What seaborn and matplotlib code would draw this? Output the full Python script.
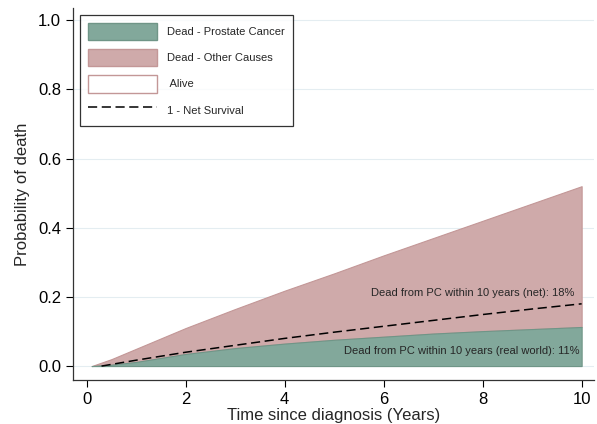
import numpy as np
import pandas as pd
import seaborn as sns
import matplotlib.pyplot as plt
from matplotlib.patches import Patch
from matplotlib.lines import Line2D

# values (years since diagnosis)
years = [0.1, 0.5, 1, 2, 3, 4, 5, 6, 7, 8, 9, 10]
dead_pc = [0.0, 0.004, 0.012, 0.035, 0.052, 0.065, 0.076, 0.085, 0.094, 0.101, 0.107, 0.113]
dead_all = [0.0, 0.02, 0.05, 0.11, 0.165, 0.218, 0.268, 0.32, 0.37, 0.42, 0.47, 0.52]
net_years = [0.3, 1, 2, 3, 4, 5, 6, 7, 8, 9, 10]
net_death = [0.0, 0.017, 0.04, 0.06, 0.08, 0.098, 0.115, 0.132, 0.149, 0.165, 0.18]

df = pd.DataFrame({"years": years, "pc": dead_pc, "all": dead_all})
net = pd.DataFrame({"years": net_years, "net": net_death})

green = "#82a89b"
pink = "#cfaaaa"
pink_edge = "#c39797"

sns.set_style("white")
plt.rcParams["font.family"] = ["Liberation Sans", "DejaVu Sans"]

fig = plt.figure(figsize=(5.97, 4.24), dpi=100)
ax = fig.add_axes([0.122, 0.104, 0.873, 0.877])

ax.fill_between(df["years"], df["pc"], df["all"], color=pink, edgecolor=pink_edge, lw=0.8)
ax.fill_between(df["years"], 0, df["pc"], color=green, edgecolor="#6f9587", lw=0.8)
sns.lineplot(data=net, x="years", y="net", ax=ax, color="black", lw=1.1, linestyle=(0, (6, 3)))

ax.text(9.85, 0.212, "Dead from PC within 10 years (net): 18%", ha="right", va="center", fontsize=8)
ax.text(9.95, 0.045, "Dead from PC within 10 years (real world): 11%", ha="right", va="center", fontsize=8)

ax.set_xlim(-0.28, 10.25)
ax.set_ylim(-0.04, 1.035)
ax.set_xticks([0, 2, 4, 6, 8, 10])
ax.set_yticks([0, 0.2, 0.4, 0.6, 0.8, 1.0])
ax.set_yticklabels(["0.0", "0.2", "0.4", "0.6", "0.8", "1.0"])
ax.yaxis.grid(True, color="#e4edf1", lw=0.8)
ax.set_axisbelow(True)
ax.tick_params(axis="both", which="both", direction="out", length=5, width=0.8, labelsize=12, colors="black", left=True, bottom=True)
ax.set_xlabel("Time since diagnosis (Years)", fontsize=12, labelpad=1)
ax.set_ylabel("Probability of death", fontsize=12, labelpad=6)
for s in ["top", "right"]:
    ax.spines[s].set_visible(False)
for s in ["left", "bottom"]:
    ax.spines[s].set_color("#333333")
    ax.spines[s].set_linewidth(0.9)

handles = [
    Patch(facecolor=green, edgecolor="#6f9587", label="Dead - Prostate Cancer"),
    Patch(facecolor=pink, edgecolor=pink_edge, label="Dead - Other Causes"),
    Patch(facecolor="white", edgecolor=pink_edge, label=" Alive"),
    Line2D([0], [0], color="black", lw=1.1, linestyle=(0, (6, 3)), label="1 - Net Survival"),
]
leg = ax.legend(handles=handles, loc="upper left", bbox_to_anchor=(0.004, 0.995), fontsize=8,
                frameon=True, fancybox=False, edgecolor="black", handlelength=6.2, handleheight=2.0,
                borderpad=0.7, labelspacing=0.8, handletextpad=0.9)
leg.get_frame().set_linewidth(0.9)

fig.savefig("out.png", dpi=100)
